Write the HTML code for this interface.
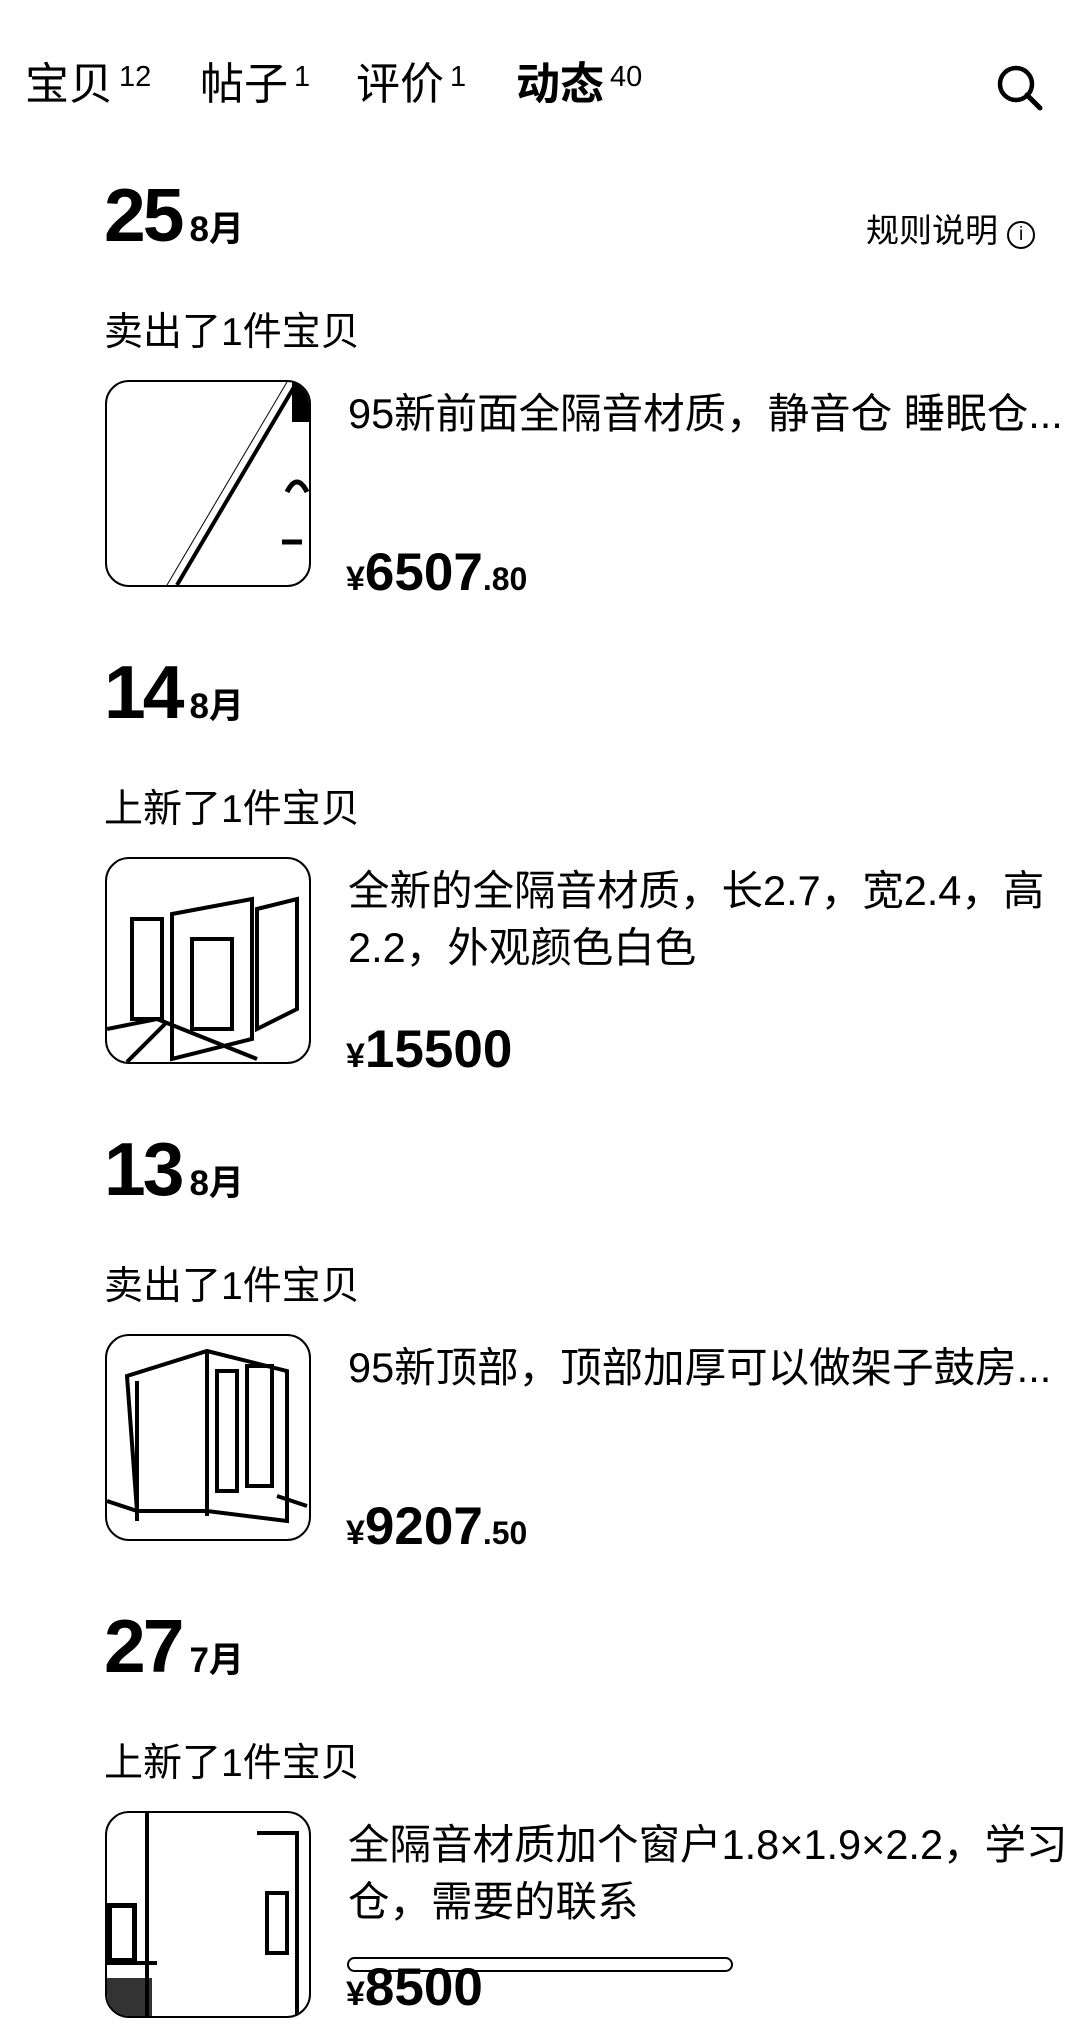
<!DOCTYPE html>
<html><head><meta charset="utf-8"><style>
html,body{margin:0;padding:0;background:#fff}
body{width:1080px;height:1991px;position:relative;overflow:hidden;font-family:"Liberation Sans","Noto Sans CJK SC",sans-serif;color:#000}
.a{position:absolute;white-space:nowrap}
.tab{font-size:44px;top:59px;line-height:52px}
.tab sup{font-size:29px;position:relative;top:-8px;margin-left:6px;vertical-align:top}
.day{font-size:75px;font-weight:bold;left:104px;letter-spacing:-3px;line-height:85px}
.mon{font-size:35px;font-weight:bold;letter-spacing:0;margin-left:8px}
.lbl{font-size:39px;left:104px;line-height:45px}
.th{position:absolute;left:105px;width:202px;height:203px;border:2.5px solid #000;border-radius:24px;overflow:hidden;background:#fff}
.tt{font-size:41.5px;left:348px;line-height:57px}
.pr{font-size:53px;font-weight:bold;left:346px;line-height:60px}
.pr small{font-size:32px}
.pr .y{font-size:34px}
</style></head><body>
<div class="a tab" style="left:25px">宝贝<sup>12</sup></div>
<div class="a tab" style="left:200px">帖子<sup>1</sup></div>
<div class="a tab" style="left:356px">评价<sup>1</sup></div>
<div class="a tab" style="left:516px;font-weight:bold">动态<sup style="font-weight:normal">40</sup></div>
<svg class="a" style="left:994px;top:62px" width="52" height="52" viewBox="0 0 52 52"><circle cx="22" cy="22" r="16" fill="none" stroke="#000" stroke-width="4.5"/><line x1="33" y1="33" x2="46" y2="46" stroke="#000" stroke-width="5" stroke-linecap="round"/></svg>

<!-- section 1 -->
<div class="a day" style="top:173px">25<span class="mon">8月</span></div>
<div class="a" style="left:866px;top:211px;font-size:33px;line-height:40px">规则说明 <span style="display:inline-block;width:24px;height:24px;border:2.5px solid #000;border-radius:50%;font-size:19px;text-align:center;line-height:24px;vertical-align:2px">i</span></div>
<div class="a lbl" style="top:310px">卖出了1件宝贝</div>
<div class="th" style="top:380px"><svg width="202" height="203"><line x1="70" y1="203" x2="190" y2="0" stroke="#000" stroke-width="4"/><line x1="60" y1="203" x2="180" y2="0" stroke="#000" stroke-width="1"/><rect x="185" y="0" width="17" height="40" fill="#000"/><path d="M180 110 q10 -20 20 0 M175 160 h20" stroke="#000" stroke-width="5" fill="none"/></svg></div>
<div class="a tt" style="top:385px">95新前面全隔音材质，静音仓 睡眠仓...</div>
<div class="a pr" style="top:543px"><span class="y">¥</span>6507<small>.80</small></div>

<!-- section 2 -->
<div class="a day" style="top:650px">14<span class="mon">8月</span></div>
<div class="a lbl" style="top:787px">上新了1件宝贝</div>
<div class="th" style="top:857px"><svg width="202" height="203"><path d="M25 60 h30 v100 h-30z M65 55 l80 -15 v140 l-80 20z M85 80 h40 v90 h-40z M150 50 l40 -10 v110 l-40 20z M0 170 l50 -10 l100 40 M20 203 l40 -40" stroke="#000" stroke-width="4" fill="none"/></svg></div>
<div class="a tt" style="top:862px">全新的全隔音材质，长2.7，宽2.4，高<br>2.2，外观颜色白色</div>
<div class="a pr" style="top:1020px"><span class="y">¥</span>15500</div>

<!-- section 3 -->
<div class="a day" style="top:1127px">13<span class="mon">8月</span></div>
<div class="a lbl" style="top:1264px">卖出了1件宝贝</div>
<div class="th" style="top:1334px"><svg width="202" height="203"><path d="M20 40 l80 -25 l80 20 v150 l-80 -10 l-70 0z M30 45 l0 140 M100 15 v165 M110 35 h20 v120 h-20z M140 30 h25 v120 h-25z M0 165 l30 10 M170 160 l30 10" stroke="#000" stroke-width="4" fill="none"/></svg></div>
<div class="a tt" style="top:1339px">95新顶部，顶部加厚可以做架子鼓房...</div>
<div class="a pr" style="top:1497px"><span class="y">¥</span>9207<small>.50</small></div>

<!-- section 4 -->
<div class="a day" style="top:1604px">27<span class="mon">7月</span></div>
<div class="a lbl" style="top:1741px">上新了1件宝贝</div>
<div class="th" style="top:1811px"><svg width="202" height="203"><rect x="0" y="90" width="30" height="60" fill="#000"/><rect x="5" y="95" width="20" height="50" fill="#fff"/><path d="M40 0 v203 M150 20 h40 v190 M0 150 h50 M160 80 h20 v60 h-20z" stroke="#000" stroke-width="4" fill="none"/><rect x="0" y="165" width="45" height="40" fill="#000" opacity=".8"/></svg></div>
<div class="a tt" style="top:1816px">全隔音材质加个窗户1.8×1.9×2.2，学习<br>仓，需要的联系</div>
<div class="a" style="left:347px;top:1957px;width:382px;height:11px;border:2.5px solid #000;border-radius:8px"></div>
<div class="a pr" style="top:1958px"><span class="y">¥</span>8500</div>
</body></html>
